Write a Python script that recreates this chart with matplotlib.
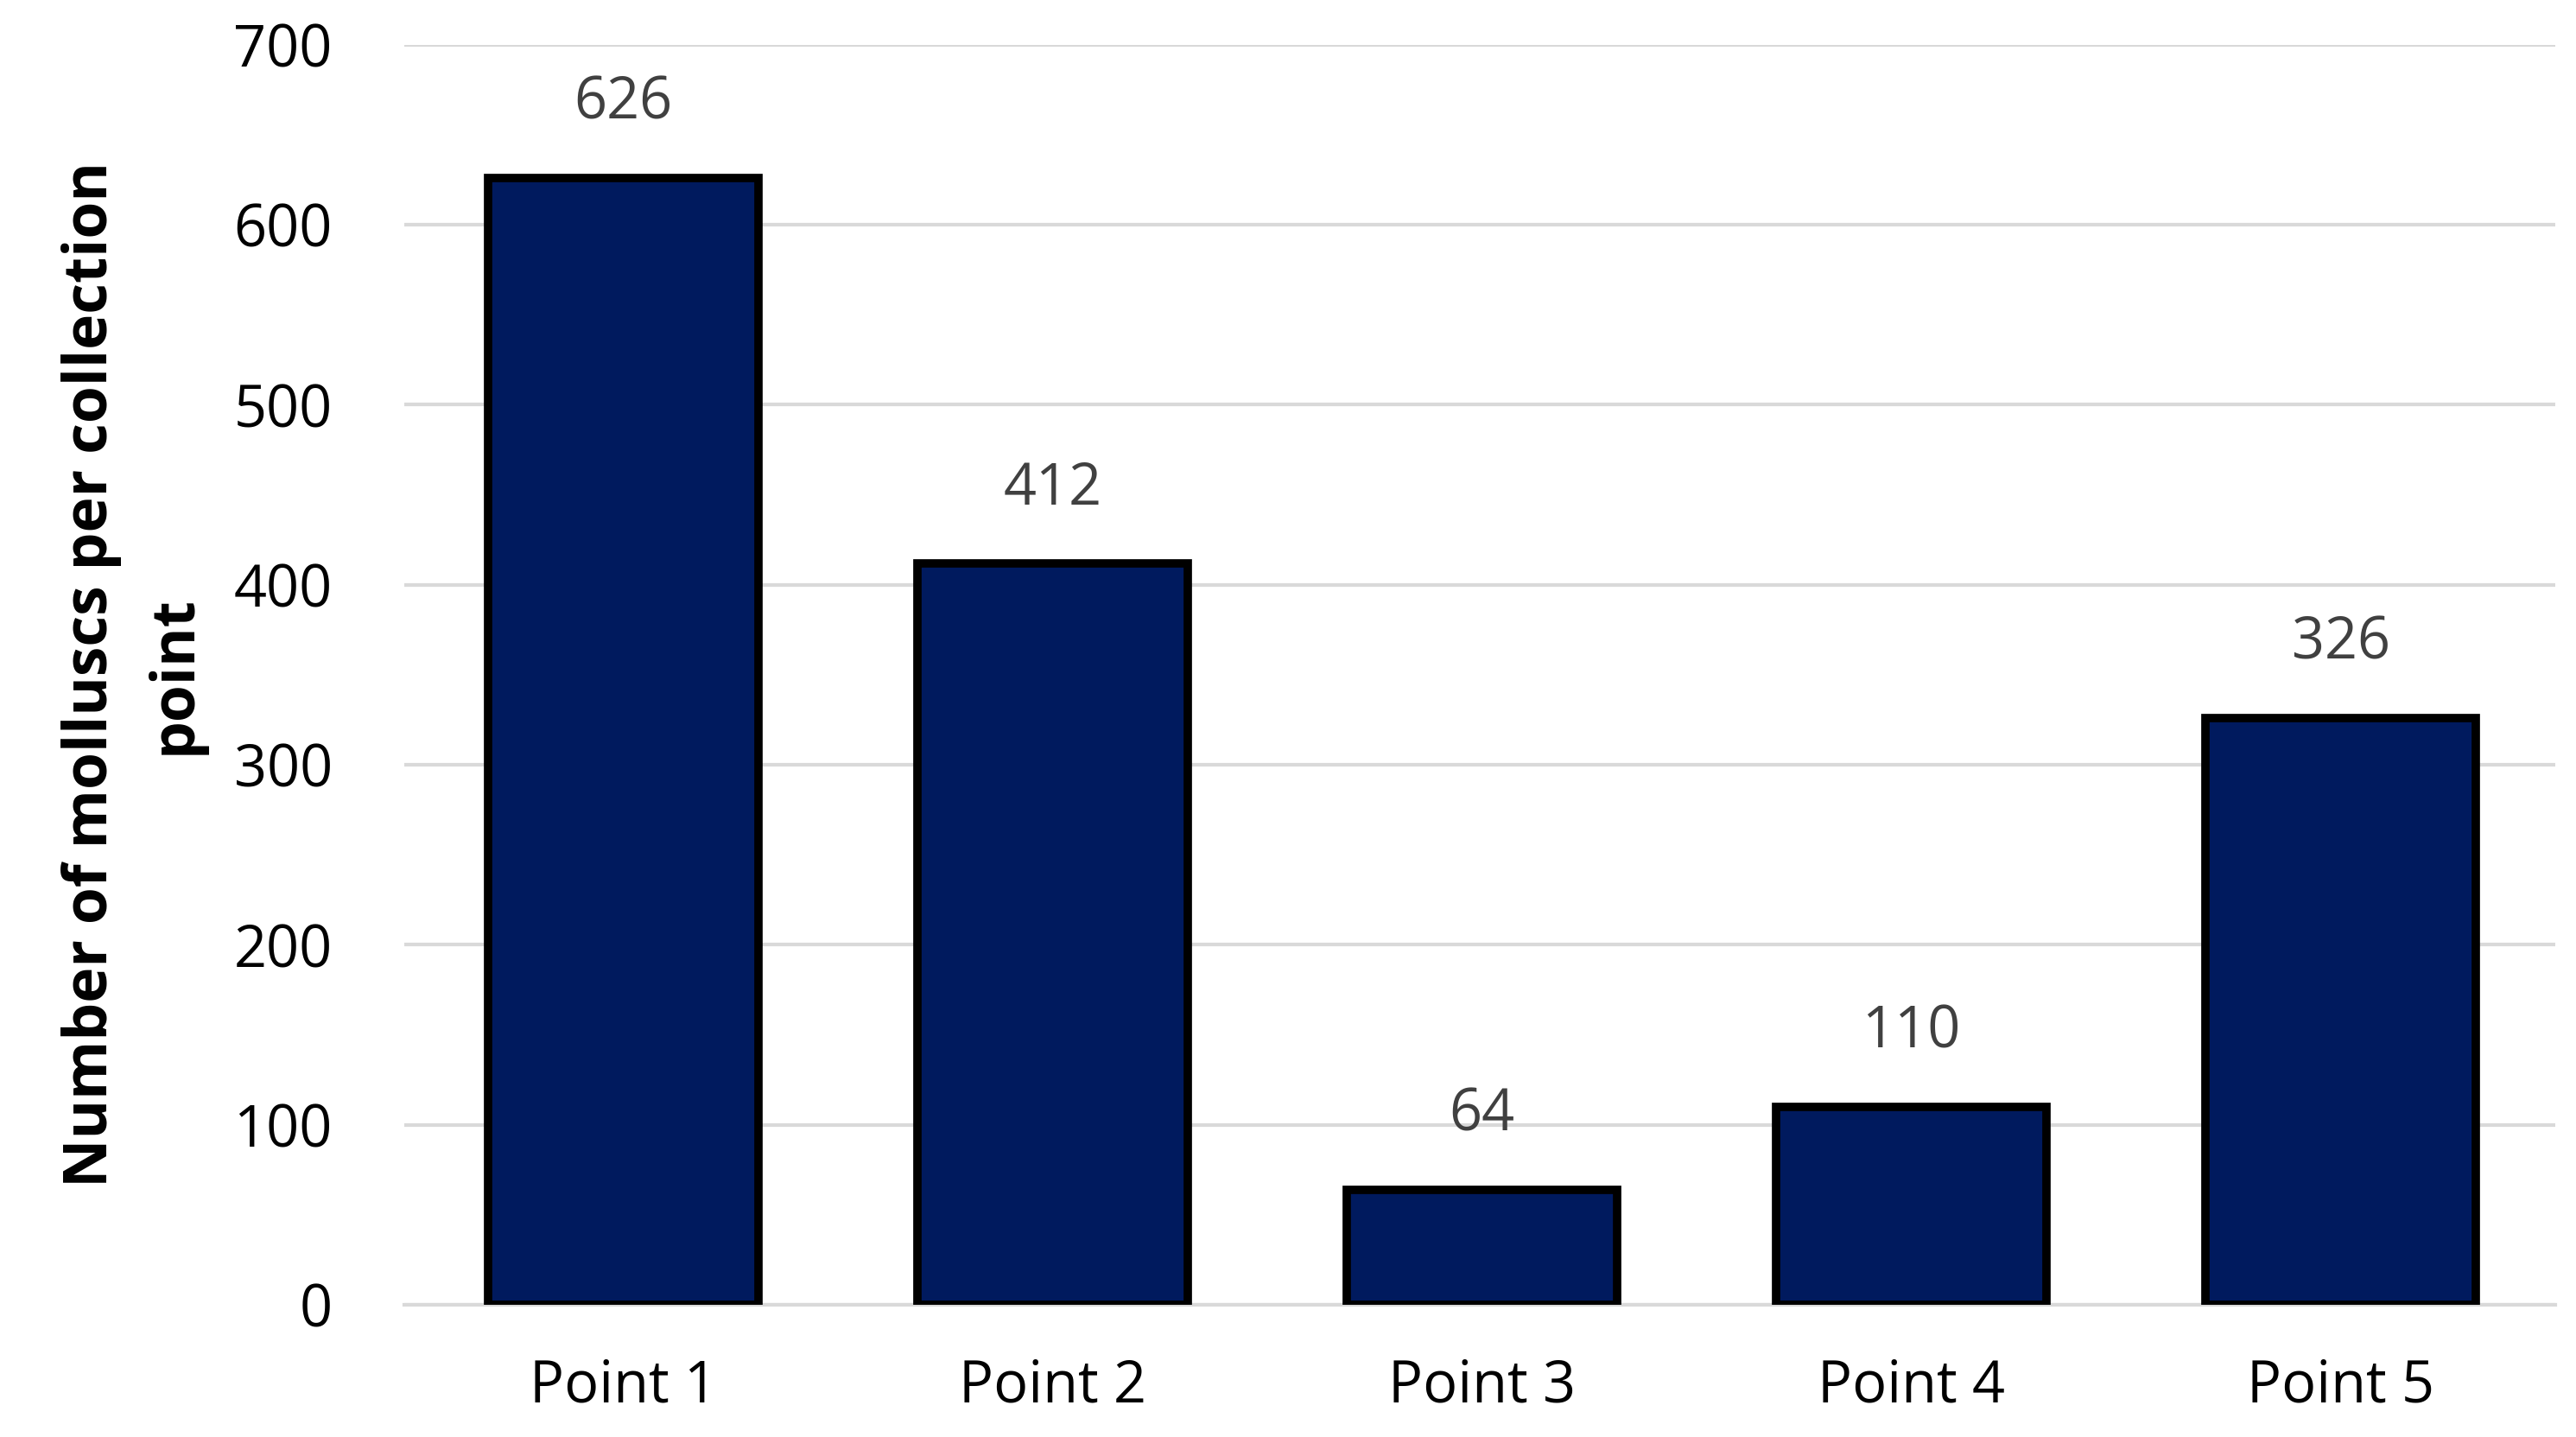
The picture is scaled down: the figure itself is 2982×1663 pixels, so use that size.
import matplotlib.pyplot as plt

categories = ['Point 1', 'Point 2', 'Point 3', 'Point 4', 'Point 5']
counts = [626, 412, 64, 110, 326]

plt.rcParams['font.family'] = ['Open Sans', 'DejaVu Sans']

fig = plt.figure(figsize=(14.91, 8.315), dpi=200)
ax = fig.add_axes([0.157, 0.092, 0.835, 0.877])

bars = ax.bar(categories, counts, width=0.63, color='#001A5E',
              edgecolor='black', linewidth=3.5, zorder=3)
for b, v in zip(bars, counts):
    ax.text(b.get_x() + b.get_width() / 2, v + 25, str(v), ha='center',
            va='bottom', fontsize=24, color='#404040')

ax.set_ylim(0, 700)
ax.set_xlim(-0.51, 4.5)
ax.set_yticks(range(0, 701, 100))
ax.grid(axis='y', color='#d9d9d9', linewidth=1.5, zorder=0)
for s in ['top', 'right', 'left']:
    ax.spines[s].set_visible(False)
ax.spines['bottom'].set_color('#d9d9d9')
ax.spines['bottom'].set_linewidth(1.5)
ax.tick_params(axis='both', length=0, labelsize=24, colors='black')
ax.tick_params(axis='x', pad=22)
ax.tick_params(axis='y', pad=30)
ax.set_ylabel('Number of molluscs per collection\npoint', fontsize=25,
              fontweight='bold', linespacing=1.5, labelpad=12)

fig.savefig('out.png', dpi=200)
